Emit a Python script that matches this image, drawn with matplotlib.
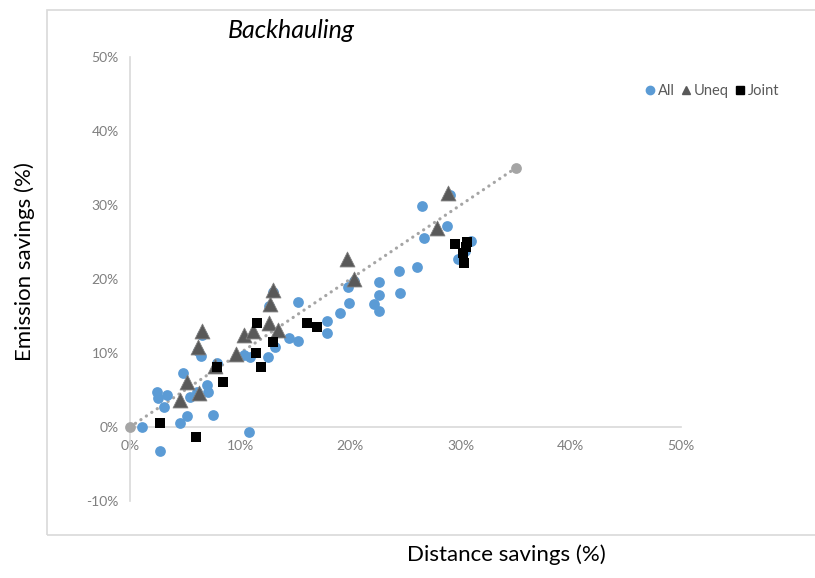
import matplotlib
import matplotlib.pyplot as plt
from matplotlib.lines import Line2D
from matplotlib.patches import Rectangle
from matplotlib.ticker import FuncFormatter

matplotlib.use('Agg')

plt.rcParams['font.family'] = ['Lato', 'DejaVu Sans']

# data (percent)
all_x = [1.1, 2.45, 2.5, 3.4, 3.1, 4.8, 5.4, 5.2, 4.5, 7.0, 7.1, 6.1, 7.5, 6.4, 7.9, 2.7, 10.8,
         10.3, 10.9, 12.5, 13.2, 14.4, 15.2, 15.2, 17.9, 17.9, 19.1, 19.9, 19.8, 22.1, 22.6,
         22.6, 22.6, 24.5, 24.4, 26.0, 26.7, 26.5, 28.8, 30.9, 29.8, 6.2, 6.5, 12.6, 13.0,
         20.3, 29.0, 30.4]
all_y = [0.0, 4.7, 3.9, 4.3, 2.7, 7.3, 4.1, 1.5, 0.5, 5.7, 4.7, 4.7, 1.6, 9.6, 8.6, -3.2, -0.7,
         9.7, 9.5, 9.5, 10.8, 12.0, 11.6, 16.9, 14.3, 12.7, 15.4, 16.8, 18.9, 16.6, 15.7,
         17.8, 19.6, 18.1, 21.1, 21.6, 25.5, 29.9, 27.2, 25.1, 22.7, 10.3, 12.5, 16.3, 18.2,
         19.7, 31.3, 23.8]

uneq_x = [4.5, 5.2, 6.3, 7.7, 6.2, 6.5, 9.6, 10.3, 11.2, 12.6, 13.4, 12.7, 13.0, 19.7, 20.3, 27.9, 28.9]
uneq_y = [3.6, 6.1, 4.6, 8.3, 10.8, 13.0, 9.9, 12.4, 13.0, 14.1, 13.1, 16.6, 18.5, 22.7, 20.0, 26.9, 31.6]

joint_x = [2.7, 6.0, 7.9, 8.4, 11.5, 13.0, 11.4, 11.9, 16.1, 17.0, 29.5, 30.6, 30.5, 30.2, 30.3]
joint_y = [0.5, -1.3, 8.1, 6.1, 14.1, 11.5, 10.0, 8.1, 14.1, 13.5, 24.7, 25.0, 24.3, 23.5, 22.2]

ref_x = [0, 35]
ref_y = [0, 35]

x_ticks = [0, 10, 20, 30, 40, 50]
y_ticks = [-10, 0, 10, 20, 30, 40, 50]

blue = '#5B9BD5'
tri = '#595959'
grey = '#A5A5A5'
axis_grey = '#D9D9D9'
text_grey = '#7F7F7F'

fig = plt.figure(figsize=(8.15, 5.78), dpi=100)
ax = fig.add_axes([130 / 815, 77 / 578, 551 / 815, 444 / 578])

# chart area border
fig.patches.append(Rectangle((47 / 815, 43 / 578), 1.0, 525 / 578, transform=fig.transFigure,
                             fill=False, edgecolor=axis_grey, linewidth=1.2))

# dotted reference line with end markers
ax.plot(ref_x, ref_y, linestyle=(0, (0.05, 2.0)), dash_capstyle='round', color=grey, linewidth=2.3,
        zorder=2)
ax.scatter(ref_x, ref_y, s=60, color=grey, linewidths=0, zorder=3, clip_on=False)
ax.scatter(all_x, all_y, s=60, color=blue, linewidths=0, zorder=3, clip_on=False)
ax.scatter(uneq_x, uneq_y, s=115, marker='^', color=tri, edgecolors='#7F7F7F', linewidths=0.6, zorder=4)
ax.scatter(joint_x, joint_y, s=55, marker='s', color='black', linewidths=0, zorder=5)

ax.set_xlim(0, 50)
ax.set_ylim(-10, 50)
ax.set_xticks(x_ticks)
ax.set_yticks(y_ticks)
pct = FuncFormatter(lambda v, p: f'{v:.0f}%')
ax.xaxis.set_major_formatter(pct)
ax.yaxis.set_major_formatter(pct)
ax.tick_params(length=0, labelsize=10, labelcolor=text_grey)
ax.tick_params(axis='x', pad=9)
ax.tick_params(axis='y', pad=8)

ax.spines['bottom'].set_position(('data', 0))
for s in ['top', 'right']:
    ax.spines[s].set_visible(False)
for s in ['bottom', 'left']:
    ax.spines[s].set_color(axis_grey)
    ax.spines[s].set_linewidth(1.2)

fig.text(291 / 815, 1 - 30 / 578, 'Backhauling', style='italic', fontsize=18, ha='center', va='center')
fig.text(506 / 815, 1 - 555 / 578, 'Distance savings (%)', fontsize=16, ha='center', va='center')
fig.text(25 / 815, 1 - 262 / 578, 'Emission savings (%)', fontsize=16, rotation=90, ha='center', va='center')

handles = [
    Line2D([], [], linestyle='none', marker='o', markersize=6, color=blue),
    Line2D([], [], linestyle='none', marker='^', markersize=5.5, color=tri),
    Line2D([], [], linestyle='none', marker='s', markersize=5.5, color='black'),
]
fig.legend(handles, ['All', 'Uneq', 'Joint'], ncol=3, frameon=False, loc='center',
           bbox_to_anchor=(711 / 815, 1 - 91 / 578), handletextpad=0.0, columnspacing=0.3,
           handlelength=1.0, fontsize=10.5, labelcolor='#595959')

fig.savefig('out.png', dpi=100)
plt.close()
